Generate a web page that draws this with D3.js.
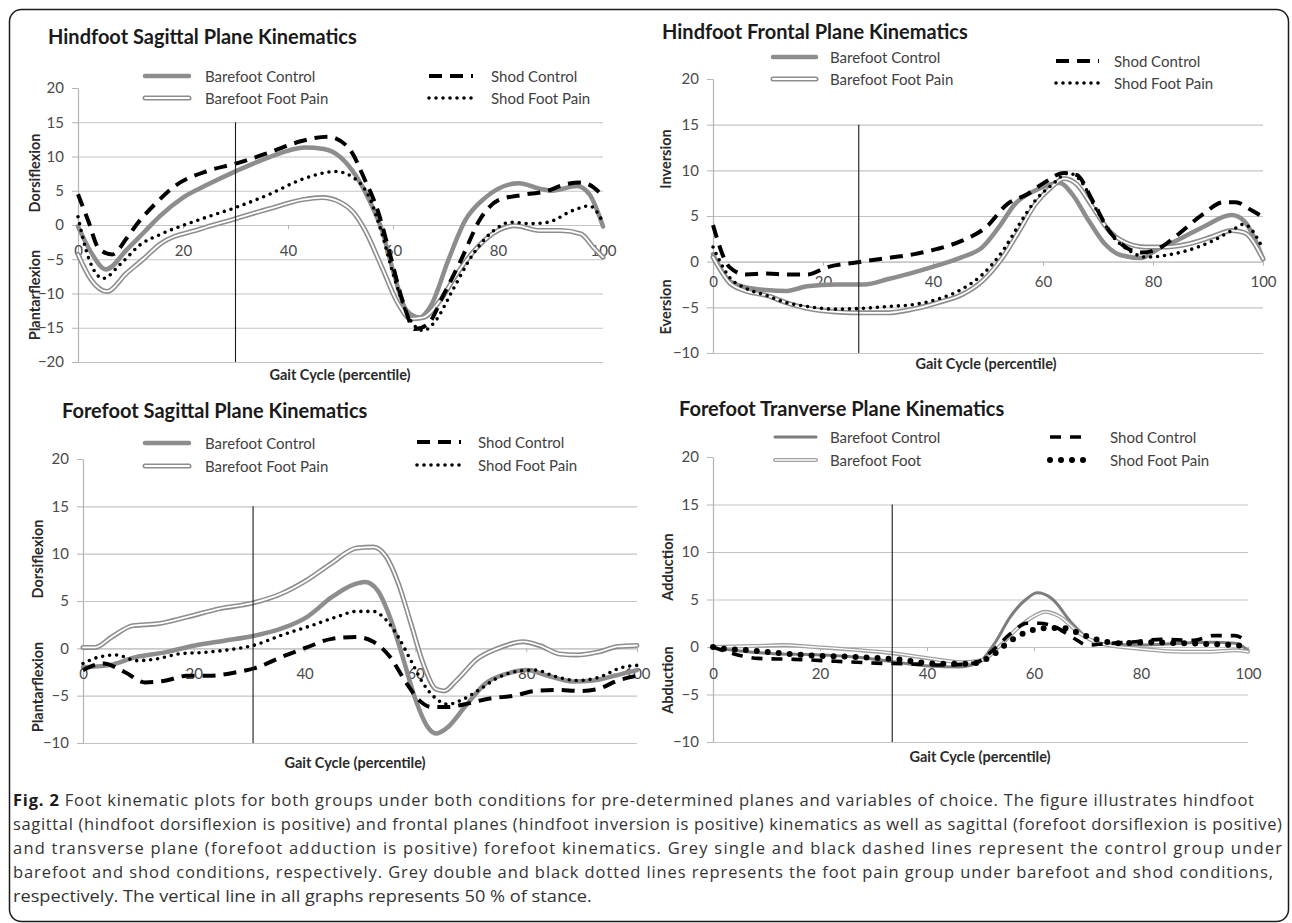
<!DOCTYPE html>
<html>
<head>
<meta charset="utf-8">
<script src="https://cdn.jsdelivr.net/npm/d3@7"></script>
<style>
    body { margin: 0; background: #fff; }
    svg { display: block; }
</style>
</head>
<body>
<svg id="fig" width="1292" height="923"></svg>
<script>
// ticks and labels
var gait_ticks      = [0, 20, 40, 60, 80, 100];
var sagittal_ticks  = [-20, -15, -10, -5, 0, 5, 10, 15, 20];
var short_ticks     = [-10, -5, 0, 5, 10, 15, 20];
var legend_labels   = ['Barefoot Control', 'Barefoot Foot Pain', 'Shod Control', 'Shod Foot Pain'];
var legend_labels_t = ['Barefoot Control', 'Barefoot Foot', 'Shod Control', 'Shod Foot Pain'];
var stance_marks    = [30, 26.5, 30.7, 33.5];

// hindfoot sagittal
var hs_barefoot_control = [[0,-0.2],[2.5,-4],[5.3,-6.5],[9.3,-3.6],[12.4,-1.2],[15.6,1.3],[20,4.0],[24.7,5.9],[30.2,7.9],[36.5,9.9],[43.2,11.3],[46.8,11.1],[50,9.9],[53.1,7.0],[55.5,3.6],[57.9,-0.8],[60.2,-7.2],[62.6,-12.5],[65,-13.5],[67.4,-11.5],[70.5,-5.2],[73.7,0.6],[77.6,4.0],[84,6.1],[87.9,5.3],[90.3,5.0],[95,5.7],[97.4,4.5],[100,-0.2]];
var hs_barefoot_pain    = [[0,-4.3],[2.5,-8],[5.5,-9.7],[9.3,-7.0],[12.4,-5.0],[15.6,-2.8],[23.2,-0.6],[29.9,0.9],[36.5,2.4],[42.8,3.7],[46.5,4.0],[50,3.3],[52.5,1.8],[54.7,-0.8],[57.9,-6.2],[61,-11.5],[63.4,-13.7],[65.8,-13.5],[68.9,-11.1],[72.1,-7.2],[76,-3.3],[80,-0.8],[83.2,-0.1],[87.9,-0.8],[91.9,-0.8],[95.8,-1.3],[98.2,-3.3],[100,-4.7]];
var hs_shod_control     = [[0,4.5],[2,0.5],[4,-3.5],[6.5,-4.3],[9.3,-1.9],[11.2,0.1],[15,3.3],[18.3,5.6],[24.7,7.9],[30.2,9.0],[36.5,10.6],[42.8,12.3],[47.6,12.9],[51.5,11.3],[54.7,6.5],[57.1,2.1],[59.4,-4.2],[61.8,-11],[64.2,-15.2],[66.6,-14.5],[69.7,-10.1],[72.9,-5.2],[76.8,1.1],[80,3.6],[84.7,4.4],[89.5,5.0],[92.6,5.9],[95.8,6.2],[98.2,5.5],[100,4.2]];
var hs_shod_pain        = [[0,1.2],[2.1,-5.0],[4.8,-7.8],[8.1,-5.7],[12,-2.8],[15.6,-1.4],[23.2,0.8],[30.2,2.6],[36.5,4.5],[42.8,6.7],[49.2,7.8],[52.3,7.0],[55.5,4.0],[57.9,-1.3],[60.2,-7.6],[63.4,-14],[65.8,-15.4],[68.1,-14],[71.3,-9.6],[75.3,-4.2],[79.2,-0.8],[82.4,0.4],[86.3,0.2],[89.5,0.4],[94.2,2.1],[97.4,2.8],[100,0.4]];

// hindfoot frontal
var hf_barefoot_control = [[0,0.8],[3,-2.1],[5.9,-2.8],[9.7,-3.1],[13.4,-3.2],[17.1,-2.7],[22.3,-2.5],[27.5,-2.5],[31.9,-1.9],[36.4,-1.2],[40.8,-0.4],[45.3,0.5],[49,1.6],[52,3.8],[54.9,6.3],[58.6,7.8],[61.6,8.5],[63.1,8.6],[65.3,7.4],[68.3,4.5],[71.3,1.9],[74.2,0.7],[77.9,0.4],[80.9,1.4],[84.6,2.4],[89.1,3.8],[94.3,5.1],[96.5,4.5],[100,0.3]];
var hf_barefoot_pain    = [[0,0.5],[3,-2.3],[5.9,-3.2],[9.7,-3.7],[13.4,-4.5],[17.1,-5.1],[22.3,-5.5],[27.5,-5.6],[31.9,-5.6],[36.4,-5.2],[40.8,-4.5],[45.3,-3.6],[49,-2.1],[52.7,0.5],[55.7,3.4],[58.6,6.3],[61.6,8.2],[63.8,9.1],[66.1,8.5],[69,6.0],[72,3.4],[75,2.1],[78.7,1.6],[82.4,1.6],[86.1,1.9],[90.6,2.7],[94.3,3.4],[96.5,3.2],[100,0.3]];
var hf_shod_control     = [[0,4.0],[3,-0.6],[5.9,-1.4],[9.7,-1.3],[13.4,-1.4],[17.1,-1.4],[20.8,-0.6],[26,-0.1],[30.4,0.3],[36.4,0.8],[40.8,1.4],[45.3,2.3],[49.7,3.8],[53.5,6.3],[57.2,7.4],[60.1,8.6],[63.8,9.7],[66.1,9.5],[69,6.7],[72,3.4],[75,1.6],[77.9,1.0],[80.9,1.4],[84.6,3.0],[89.1,5.2],[92.8,6.5],[95,6.5],[98,5.6],[100,4.9]];
var hf_shod_pain        = [[0,1.6],[3,-1.7],[5.9,-2.9],[9.7,-3.7],[13.4,-4.5],[17.1,-4.9],[22.3,-5.2],[27.5,-5.1],[31.9,-4.9],[36.4,-4.7],[40.8,-4.1],[45.3,-3.0],[49,-1.4],[52.7,1.2],[55.7,4.1],[58.6,6.7],[61.6,8.4],[64.6,9.7],[66.8,8.9],[69.8,5.6],[72.8,2.7],[75.7,1.2],[78.7,0.5],[82.4,0.7],[86.1,1.2],[90.6,2.2],[94.3,3.4],[96.5,4.1],[100,1.4]];

// forefoot sagittal
var fs_barefoot_control = [[0,-2.0],[4.5,-1.8],[9.7,-0.9],[15,-0.4],[20.2,0.3],[25.5,0.8],[30.7,1.3],[35.9,2.1],[40.4,3.3],[44.9,5.4],[48.7,6.7],[50.9,7.0],[53.2,6.1],[55.4,3.3],[57.7,-0.9],[59.9,-5.2],[62.2,-8.3],[63.7,-9.0],[65.9,-8.3],[68.9,-6.2],[72.7,-3.7],[76.4,-2.7],[80.1,-2.3],[83.9,-2.9],[88.4,-3.5],[92.1,-3.4],[95.9,-2.9],[100,-2.3]];
var fs_barefoot_pain    = [[0,0.1],[2.2,0.1],[5.2,1.2],[9,2.4],[13.5,2.6],[18.7,3.3],[24.7,4.2],[30.7,4.8],[35.9,5.8],[40.4,7.2],[44.9,9.0],[49.4,10.6],[52.4,10.7],[54.7,9.7],[56.9,6.9],[59.2,2.6],[61.4,-1.6],[63.7,-4.3],[65.2,-4.5],[67.4,-3.4],[71.2,-1.1],[74.9,0],[79.4,0.7],[82.4,0.3],[86.1,-0.6],[89.1,-0.7],[92.9,-0.4],[96.6,0.2],[100,0.3]];
var fs_shod_control     = [[0,-2.3],[3.7,-1.6],[7.5,-2.5],[11.2,-3.6],[15,-3.4],[18.7,-2.9],[22.5,-2.9],[27,-2.6],[31.5,-2.0],[35.9,-0.9],[40.4,0.1],[44.9,1.0],[49.4,1.2],[52.4,0.7],[55.4,-0.9],[58.4,-3.7],[60.7,-5.5],[62.9,-6.2],[65.9,-6.2],[68.9,-5.9],[73.4,-5.3],[77.9,-5.0],[81.6,-4.5],[85.4,-4.4],[89.9,-4.5],[92.9,-4.3],[96.6,-3.4],[100,-2.9]];
var fs_shod_pain        = [[0,-1.6],[3,-0.9],[6,-0.7],[9.7,-1.3],[13.5,-1.1],[17.2,-0.6],[22.5,-0.4],[27,-0.1],[30.7,0.3],[35.9,1.4],[41.2,2.4],[45.7,3.3],[49.4,3.9],[52.4,3.9],[54.7,3.0],[56.9,1.2],[59.2,-1.3],[61.4,-3.7],[63.7,-5.3],[65.9,-5.9],[68.2,-5.5],[71.2,-4.5],[74.9,-3.1],[78.7,-2.4],[81.6,-2.3],[85.4,-3.0],[89.1,-3.4],[92.9,-3.1],[97.4,-2.0],[100,-1.8]];

// forefoot transverse
var ft_barefoot_control = [[0,0],[3.8,-0.35],[11.4,-0.7],[19,-0.8],[26.7,-1.05],[34.3,-1.6],[40.4,-2.0],[45.7,-2.1],[49.5,-1.7],[52.6,0.35],[55.6,3.2],[58.7,5.1],[60.6,5.7],[63.3,5.1],[67.1,2.5],[70.1,0.9],[73.2,0.35],[80,0.2],[87.7,0.4],[93,0.5],[97.6,0.4],[100,-0.35]];
var ft_barefoot_pain    = [[0,0],[7.6,0.1],[13,0.2],[19,0],[26.7,-0.3],[34.3,-0.7],[40.4,-1.2],[46.5,-1.6],[50.3,-1.4],[53.4,0],[57.2,2.1],[60.2,3.3],[62.1,3.7],[64.8,3.2],[68.6,1.4],[72.4,0.35],[80,-0.2],[87.7,-0.5],[93,-0.5],[97.6,-0.35],[100,-0.5]];
var ft_shod_control     = [[0,0],[3.8,-0.7],[8.4,-1.2],[15.2,-1.3],[22.9,-1.5],[30.5,-1.7],[38.1,-1.8],[43.4,-1.9],[48.8,-1.7],[52.6,-0.2],[55.6,1.4],[58.7,2.5],[61,2.5],[64,2.1],[67.1,1.05],[70.1,0.2],[73.2,0.35],[77.7,0.5],[83.8,0.8],[89.9,0.7],[93.5,1.2],[97.6,1.2],[100,0.4]];
var ft_shod_pain        = [[0,0],[2.3,-0.2],[6.9,-0.35],[11.4,-0.6],[19,-0.9],[26.7,-1.05],[34.3,-1.3],[41.9,-1.75],[48,-1.75],[51.8,-1.05],[54.9,0.35],[58.7,1.6],[62.5,2.0],[65.5,2.0],[68.6,1.4],[71.6,0.8],[76.2,0.4],[81.5,0.5],[87.7,0.4],[93,0.3],[97.6,0.2],[100,0]];

// caption lines
var caption_lines = [
    ' Foot kinematic plots for both groups under both conditions for pre-determined planes and variables of choice. The figure illustrates hindfoot',
    'sagittal (hindfoot dorsiflexion is positive) and frontal planes (hindfoot inversion is positive) kinematics as well as sagittal (forefoot dorsiflexion is positive)',
    'and transverse plane (forefoot adduction is positive) forefoot kinematics. Grey single and black dashed lines represent the control group under',
    'barefoot and shod conditions, respectively. Grey double and black dotted lines represents the foot pain group under barefoot and shod conditions,',
    'respectively. The vertical line in all graphs represents 50 % of stance.'
];

// line styles (one entry per stroke layer)
var styles = {
    barefoot_control: [{ stroke: '#8d8d8d', width: 4.5, cap: 'round' }],
    barefoot_pain:    [{ stroke: '#8d8d8d', width: 5, cap: 'round' }, { stroke: '#fff', width: 1.8, cap: 'round' }],
    shod_control:     [{ stroke: '#000', width: 4, dash: '13,8' }],
    shod_pain:        [{ stroke: '#000', width: 3.6, dash: '0,7', cap: 'round' }]
};
var styles_t = {
    barefoot_control: [{ stroke: '#7d7d7d', width: 3, cap: 'round' }],
    barefoot_pain:    [{ stroke: '#a0a0a0', width: 4, cap: 'round' }, { stroke: '#fff', width: 1.4, cap: 'round' }],
    shod_control:     [{ stroke: '#000', width: 3.6, dash: '11,9' }],
    shod_pain:        [{ stroke: '#000', width: 6, dash: '0,11', cap: 'round' }]
};

// panels
var panels = [
    {
        title: 'Hindfoot Sagittal Plane Kinematics', title_pos: [48, 44],
        x_range: [78, 603], y_range: [362, 88], ticks: sagittal_ticks, stance: stance_marks[0],
        label_pad: 16, gait_pos: [340, 380],
        y_labels: [['Dorsiflexion', 173], ['Plantarflexion', 295]], y_label_x: 35,
        legend: { left: [145, 189, 205], right: [429, 473, 491], rows: [76, 98], rows_right: [76, 98] },
        labels: legend_labels, styles: styles,
        series: [hs_barefoot_control, hs_barefoot_pain, hs_shod_control, hs_shod_pain]
    },
    {
        title: 'Hindfoot Frontal Plane Kinematics', title_pos: [662, 39],
        x_range: [713, 1263], y_range: [353, 79], ticks: short_ticks, stance: stance_marks[1],
        label_pad: 11, gait_pos: [986, 369],
        y_labels: [['Inversion', 159], ['Eversion', 307]], y_label_x: 666,
        legend: { left: [773, 816, 830], right: [1056, 1099, 1114], rows: [57, 79], rows_right: [61, 83] },
        labels: legend_labels, styles: styles,
        series: [hf_barefoot_control, hf_barefoot_pain, hf_shod_control, hf_shod_pain]
    },
    {
        title: 'Forefoot Sagittal Plane Kinematics', title_pos: [62, 418],
        x_range: [83, 637], y_range: [743, 459], ticks: short_ticks, stance: stance_marks[2],
        label_pad: 16, gait_pos: [355, 768],
        y_labels: [['Dorsiflexion', 559], ['Plantarflexion', 687]], y_label_x: 38,
        legend: { left: [145, 189, 205], right: [417, 461, 478], rows: [443, 466], rows_right: [442, 465] },
        labels: legend_labels, styles: styles,
        series: [fs_barefoot_control, fs_barefoot_pain, fs_shod_control, fs_shod_pain]
    },
    {
        title: 'Forefoot Tranverse Plane Kinematics', title_pos: [679, 416],
        x_range: [713, 1248], y_range: [742, 457], ticks: short_ticks, stance: stance_marks[3],
        label_pad: 17, gait_pos: [980, 762],
        y_labels: [['Adduction', 567], ['Abduction', 680]], y_label_x: 668,
        legend: { left: [775, 816, 830], right: [1050, 1090, 1110], rows: [437, 460], rows_right: [437, 460] },
        labels: legend_labels_t, styles: styles_t,
        series: [ft_barefoot_control, ft_barefoot_pain, ft_shod_control, ft_shod_pain]
    }
];

var style_keys = ['barefoot_control', 'barefoot_pain', 'shod_control', 'shod_pain'];
var chart_font = "Lato, 'Open Sans', sans-serif";

var svg = d3.select('#fig');

// outer frame
svg.append('rect')
    .attr('x', 9.5).attr('y', 9.5)
    .attr('width', 1279).attr('height', 912)
    .attr('rx', 12)
    .attr('fill', 'none')
    .attr('stroke', '#1a1a1a')
    .attr('stroke-width', 1.5);

// draw styled path
function draw_styled(g, d, layers) {
    layers.forEach(function(s) {
        g.append('path')
            .attr('d', d)
            .attr('fill', 'none')
            .attr('stroke', s.stroke)
            .attr('stroke-width', s.width)
            .attr('stroke-dasharray', s.dash || null)
            .attr('stroke-linecap', s.cap || 'butt')
            .attr('stroke-linejoin', 'round');
    });
}

// draw panel
function draw_panel(p) {
    var g = svg.append('g').style('font-family', chart_font);

    var x = d3.scaleLinear().domain([0, 100]).range(p.x_range);
    var y = d3.scaleLinear().domain(d3.extent(p.ticks)).range(p.y_range);
    var y_max = d3.max(p.ticks);
    var width = p.x_range[1] - p.x_range[0];

    // gridlines (top one sits under the legend)
    g.append('g')
        .attr('transform', 'translate(' + p.x_range[0] + ',0)')
        .call(d3.axisLeft(y)
            .tickValues(p.ticks.filter(function(t) { return t < y_max; }))
            .tickSize(-width).tickFormat(''))
        .call(function(s) {
            s.select('.domain').remove();
            s.selectAll('line').attr('stroke', '#c4c4c4').attr('stroke-width', 1.2);
        });

    // y axis
    g.append('g')
        .attr('transform', 'translate(' + p.x_range[0] + ',0)')
        .call(d3.axisLeft(y).tickValues(p.ticks).tickSize(6).tickSizeOuter(0).tickPadding(8))
        .call(function(s) {
            s.select('.domain').attr('stroke', '#b4b4b4').attr('stroke-width', 1.2);
            s.selectAll('line').attr('stroke', '#b4b4b4');
            s.selectAll('text')
                .attr('fill', '#4a4a4a')
                .style('font-family', chart_font)
                .style('font-size', '15px');
        });

    // x axis on the zero line
    g.append('g')
        .attr('transform', 'translate(0,' + y(0) + ')')
        .call(d3.axisBottom(x).tickValues(gait_ticks).tickSize(4).tickSizeOuter(0).tickPadding(p.label_pad))
        .call(function(s) {
            s.select('.domain').attr('stroke', '#c4c4c4');
            s.selectAll('line').attr('stroke', '#b4b4b4');
            s.selectAll('text')
                .attr('fill', '#4a4a4a')
                .style('font-family', chart_font)
                .style('font-size', '15px');
        });

    // series
    var line = d3.line()
        .x(function(d) { return x(d[0]); })
        .y(function(d) { return y(d[1]); })
        .curve(d3.curveMonotoneX);

    p.series.forEach(function(data, i) {
        draw_styled(g, line(data), p.styles[style_keys[i]]);
    });

    // 50% stance marker
    g.append('line')
        .attr('x1', x(p.stance)).attr('x2', x(p.stance))
        .attr('y1', y(15)).attr('y2', p.y_range[0])
        .attr('stroke', '#1a1a1a').attr('stroke-width', 1.1);

    // legend
    p.labels.forEach(function(label, i) {
        var col = i < 2 ? p.legend.left : p.legend.right;
        var row_y = i < 2 ? p.legend.rows[i] : p.legend.rows_right[i - 2];
        var sample = 'M' + col[0] + ',' + row_y + 'H' + col[1];
        draw_styled(g, sample, p.styles[style_keys[i]]);
        g.append('text')
            .attr('x', col[2]).attr('y', row_y + 5.5)
            .attr('fill', '#3f3f3f')
            .style('font-size', '15px')
            .text(label);
    });

    // title
    g.append('text')
        .attr('x', p.title_pos[0]).attr('y', p.title_pos[1])
        .attr('fill', '#1a1a1a')
        .style('font-size', '20px')
        .style('font-weight', 'bold')
        .text(p.title);

    // x axis title
    g.append('text')
        .attr('x', p.gait_pos[0]).attr('y', p.gait_pos[1])
        .attr('text-anchor', 'middle')
        .attr('fill', '#2a2a2a')
        .style('font-size', '14.5px')
        .style('font-weight', 'bold')
        .text('Gait Cycle (percentile)');

    // y axis titles
    p.y_labels.forEach(function(lab) {
        g.append('text')
            .attr('transform', 'translate(' + (p.y_label_x + 5) + ',' + lab[1] + ') rotate(-90)')
            .attr('text-anchor', 'middle')
            .attr('fill', '#2a2a2a')
            .style('font-size', '14.5px')
            .style('font-weight', 'bold')
            .text(lab[0]);
    });
}

panels.forEach(draw_panel);

// caption
var caption = svg.append('g')
    .style('font-family', "'Open Sans', sans-serif")
    .style('font-size', '16.5px')
    .attr('fill', '#333');

var caption_ends = [1254, 1282, 1282, 1273, null];
var caption_base = [806, 830, 854, 878, 902];
var squeeze = 1;

caption_lines.forEach(function(text, i) {
    var t = caption.append('text')
        .attr('x', 13).attr('y', caption_base[i]);
    if (i === 0) {
        t.append('tspan').style('font-weight', 'bold').attr('fill', '#1a1a1a').text('Fig. 2');
    }
    t.append('tspan').text(text);
    var natural = t.node().getComputedTextLength();
    if (caption_ends[i]) {
        // justified lines: fit to the right edge, remember how much the font got narrowed
        var target = caption_ends[i] - 13;
        if (i === 0) squeeze = target / natural;
        t.attr('textLength', target)
         .attr('lengthAdjust', natural < target ? 'spacing' : 'spacingAndGlyphs');
    } else {
        // last line: same narrowing as the first line
        t.attr('textLength', natural * squeeze).attr('lengthAdjust', 'spacingAndGlyphs');
    }
});
</script>
</body>
</html>
